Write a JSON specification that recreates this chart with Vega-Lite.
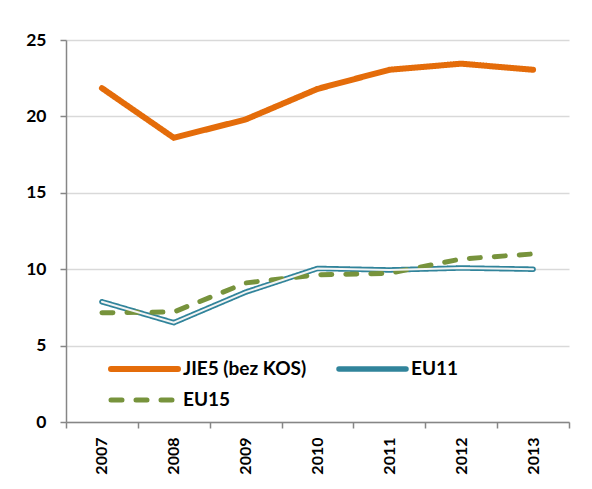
{
  "$schema": "https://vega.github.io/schema/vega-lite/v6.json",
  "width": 503,
  "height": 382,
  "autosize": "none",
  "padding": {"left": 66, "top": 40, "right": 23, "bottom": 67},
  "background": "white",
  "config": {
    "view": {"stroke": null},
    "font": "Lato"
  },
  "data": {
    "values": [
      {"year": "2007", "series": "JIE5 (bez KOS)", "value": 21.85},
      {"year": "2008", "series": "JIE5 (bez KOS)", "value": 18.6},
      {"year": "2009", "series": "JIE5 (bez KOS)", "value": 19.8},
      {"year": "2010", "series": "JIE5 (bez KOS)", "value": 21.8},
      {"year": "2011", "series": "JIE5 (bez KOS)", "value": 23.05},
      {"year": "2012", "series": "JIE5 (bez KOS)", "value": 23.45},
      {"year": "2013", "series": "JIE5 (bez KOS)", "value": 23.05},
      {"year": "2007", "series": "EU11", "value": 7.87},
      {"year": "2008", "series": "EU11", "value": 6.5},
      {"year": "2009", "series": "EU11", "value": 8.5},
      {"year": "2010", "series": "EU11", "value": 10.05},
      {"year": "2011", "series": "EU11", "value": 9.95},
      {"year": "2012", "series": "EU11", "value": 10.08},
      {"year": "2013", "series": "EU11", "value": 10.0},
      {"year": "2007", "series": "EU15", "value": 7.15},
      {"year": "2008", "series": "EU15", "value": 7.2},
      {"year": "2009", "series": "EU15", "value": 9.1},
      {"year": "2010", "series": "EU15", "value": 9.64},
      {"year": "2011", "series": "EU15", "value": 9.73},
      {"year": "2012", "series": "EU15", "value": 10.67},
      {"year": "2013", "series": "EU15", "value": 11.0}
    ]
  },
  "encoding": {
    "x": {
      "field": "year", "type": "ordinal", "title": null,
      "scale": {"paddingInner": 0, "paddingOuter": 0},
      "axis": {
        "labelAngle": -90, "labelAlign": "right", "labelBaseline": "middle",
        "labelFont": "Lato", "labelFontWeight": "bold", "labelFontSize": 16, "labelColor": "#000000",
        "labelPadding": 9, "domainColor": "#868686", "domainWidth": 1.5,
        "tickColor": "#868686", "tickSize": 6, "tickWidth": 1.5, "tickBand": "extent", "grid": false
      }
    },
    "y": {
      "field": "value", "type": "quantitative", "title": null,
      "scale": {"domain": [0, 25], "nice": false, "zero": true},
      "axis": {
        "values": [0, 5, 10, 15, 20, 25],
        "labelFont": "Lato", "labelFontWeight": "bold", "labelFontSize": 17.5, "labelColor": "#000000",
        "labelPadding": 14, "domainColor": "#868686", "domainWidth": 1.5,
        "tickColor": "#868686", "tickSize": 6, "tickWidth": 1.5,
        "grid": true, "gridColor": "#d9d9d9", "gridWidth": 1.5
      }
    }
  },
  "layer": [
    {
      "mark": {"type": "line", "strokeCap": "round", "strokeJoin": "miter"},
      "encoding": {
        "color": {
          "field": "series", "type": "nominal",
          "scale": {"domain": ["JIE5 (bez KOS)", "EU11", "EU15"], "range": ["#E46C0A", "#31849B", "#77933C"]},
          "legend": {
            "title": null, "orient": "none", "legendX": 42, "legendY": 318,
            "direction": "horizontal", "columns": 2, "columnPadding": 29, "rowPadding": 9,
            "clipHeight": 22, "padding": 0,
            "symbolType": "stroke", "symbolSize": 4489, "symbolStrokeWidth": 6.5,
            "labelFont": "Lato", "labelFontWeight": "bold", "labelFontSize": 19, "labelColor": "#000000",
            "labelOffset": 2, "labelLimit": 300,
            "encode": {"symbols": {"update": {"strokeCap": {"value": "round"}}}}
          }
        },
        "strokeDash": {
          "field": "series", "type": "nominal",
          "scale": {"domain": ["JIE5 (bez KOS)", "EU11", "EU15"], "range": [[1, 0], [1, 0], [11, 14]]},
          "legend": null
        },
        "strokeWidth": {
          "field": "series", "type": "nominal",
          "scale": {"domain": ["JIE5 (bez KOS)", "EU11", "EU15"], "range": [6, 5, 6]},
          "legend": null
        }
      }
    },
    {
      "transform": [{"filter": "datum.series === 'EU11'"}],
      "mark": {"type": "line", "color": "#f4f4f4", "strokeWidth": 2, "strokeCap": "round"},
      "encoding": {"detail": {"field": "series"}}
    }
  ]
}
